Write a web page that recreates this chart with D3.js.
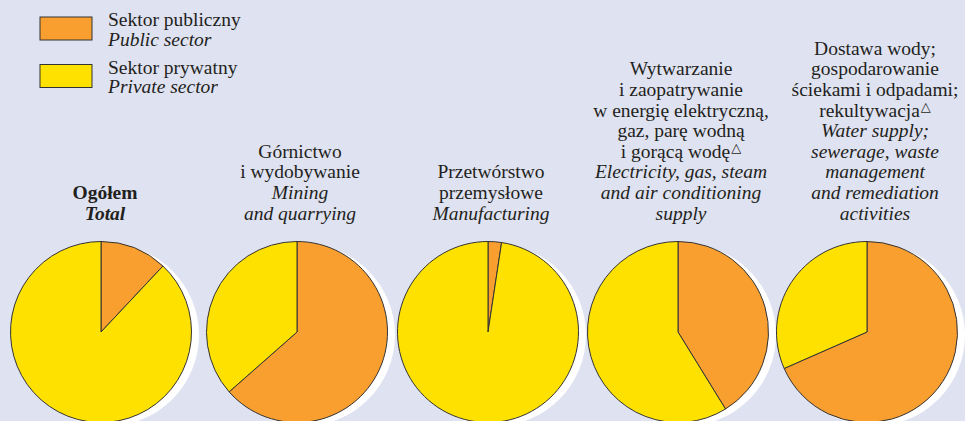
<!DOCTYPE html>
<html>
<head>
<meta charset="utf-8">
<script src="https://cdn.jsdelivr.net/npm/d3@7"></script>
<style>
  html, body { margin: 0; padding: 0; background: #dfe2f1; }
  svg { display: block; }
  text { font-family: "Liberation Serif", "Times New Roman", Times, serif; fill: #231f20; }
</style>
</head>
<body>
<div id="chart"></div>
<script>
(function(){

    // sections (keys), titles in polish and english
    var sections = ["total", "mining", "manufacturing", "energy", "water"];

    var titlesPl = [
        ["Ogółem"],
        ["Górnictwo", "i wydobywanie"],
        ["Przetwórstwo", "przemysłowe"],
        ["Wytwarzanie", "i zaopatrywanie", "w energię elektryczną,", "gaz, parę wodną", "i gorącą wodę^"],
        ["Dostawa wody;", "gospodarowanie", "ściekami i odpadami;", "rekultywacja^"]
    ];

    var titlesEn = [
        ["Total"],
        ["Mining", "and quarrying"],
        ["Manufacturing"],
        ["Electricity, gas, steam", "and air conditioning", "supply"],
        ["Water supply;", "sewerage, waste", "management", "and remediation", "activities"]
    ];

    // shares in %
    var publicShare  = [12.0, 63.5, 2.4, 41.2, 68.4],
        privateShare = [88.0, 36.5, 97.6, 58.8, 31.6];

    var legendPl = ["Sektor publiczny", "Sektor prywatny"],
        legendEn = ["Public sector", "Private sector"],
        colors   = ["#f99f30", "#ffe100"];

    var width = 965, height = 421;

    var svg = d3.select("#chart").append("svg")
        .attr("width", width)
        .attr("height", height);

    svg.append("rect")
        .attr("width", width).attr("height", height)
        .attr("fill", "#dfe2f1");

    var x = d3.scaleOrdinal()
        .domain(sections)
        .range([101, 297, 488, 678, 867]);

    var color = d3.scaleOrdinal().domain([0, 1]).range(colors);

    var radius = 90.5, cy = 332;

    var pie = d3.pie().sort(null).value(function(d){ return d; }),
        arc = d3.arc().innerRadius(0).outerRadius(radius);

    // PIES //////////////////////////////////////////////////////

    var groups = svg.selectAll("g.pie")
        .data(sections)
        .enter().append("g")
        .attr("class", "pie")
        .attr("transform", function(d){ return "translate(" + x(d) + "," + cy + ")"; });

    // white shadow
    groups.append("circle")
        .attr("cx", 7).attr("cy", 3)
        .attr("r", radius + 0.5)
        .attr("fill", "#ffffff");

    groups.each(function(d, i){
        d3.select(this).selectAll("path")
            .data(pie([publicShare[i], privateShare[i]]))
            .enter().append("path")
            .attr("d", arc)
            .attr("fill", function(s, j){ return color(j); })
            .attr("stroke", "#333")
            .attr("stroke-width", 1)
            .attr("stroke-linejoin", "round");
    });

    // TITLES ////////////////////////////////////////////////////

    var lineH = 20.6, lastBase = 219.5,
        titleShift = [4, 3, 3, 3, 8];

    sections.forEach(function(s, i){
        var lines = titlesPl[i].map(function(t){ return {t: t, it: false}; })
            .concat(titlesEn[i].map(function(t){ return {t: t, it: true}; }));
        var n = lines.length;
        var g = svg.append("g")
            .attr("transform", "translate(" + (x(s) + titleShift[i]) + ",0)");
        lines.forEach(function(l, k){
            var txt = g.append("text")
                .attr("x", 0)
                .attr("y", lastBase - (n - 1 - k) * lineH)
                .attr("text-anchor", "middle")
                .style("font-size", "19.5px")
                .style("font-style", l.it ? "italic" : "normal")
                .style("font-weight", i === 0 ? "bold" : "normal");
            if (l.t.slice(-1) === "^") {
                txt.append("tspan").text(l.t.slice(0, -1));
                txt.append("tspan")
                    .attr("dx", 1)
                    .attr("dy", -6)
                    .style("font-family", "DejaVu Sans")
                    .style("font-size", "13px")
                    .text("\u25B3");
            } else {
                txt.text(l.t);
            }
        });
    });

    // LEGEND ////////////////////////////////////////////////////

    var legend = svg.append("g").attr("class", "legend");

    legendPl.forEach(function(t, i){
        var y0 = 17 + i * 47.5;
        legend.append("rect")
            .attr("x", 40).attr("y", y0)
            .attr("width", 52).attr("height", 23)
            .attr("fill", colors[i])
            .attr("stroke", "#333")
            .attr("stroke-width", 1);
        legend.append("text")
            .attr("x", 108).attr("y", y0 + 9)
            .style("font-size", "19.5px")
            .text(t);
        legend.append("text")
            .attr("x", 108).attr("y", y0 + 28.5)
            .style("font-size", "19.5px")
            .style("font-style", "italic")
            .text(legendEn[i]);
    });

})();
</script>
</body>
</html>
